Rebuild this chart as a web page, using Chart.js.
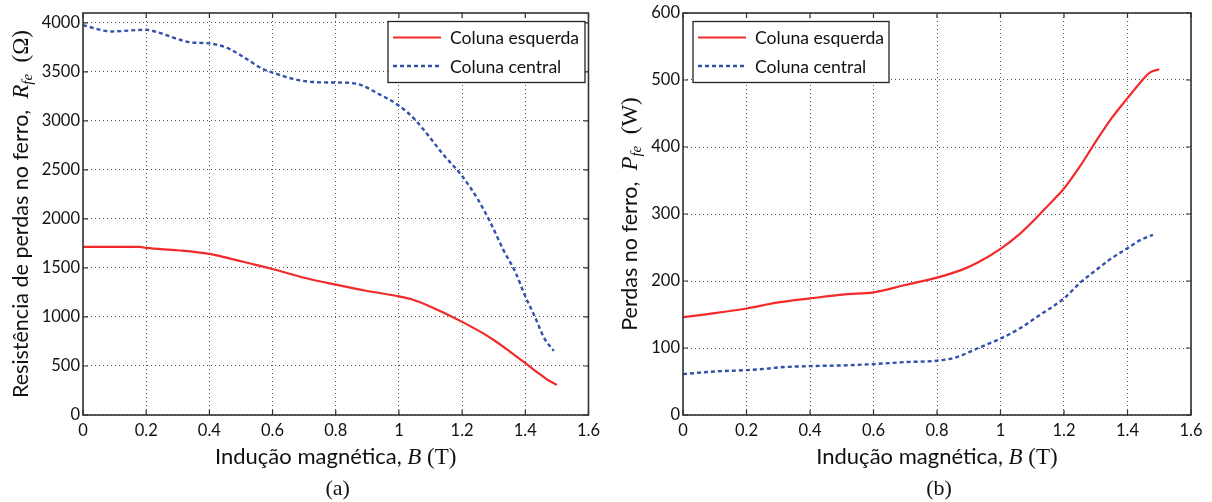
<!DOCTYPE html>
<html><head><meta charset="utf-8">
<script src="https://cdn.jsdelivr.net/npm/chart.js@4/dist/chart.umd.min.js"></script>
<style>
html,body{margin:0;padding:0;background:#fff;}
#wrap{position:relative;width:1212px;height:502px;overflow:hidden;}
.box{position:absolute;top:0;width:606px;height:502px;}
</style></head><body>
<div id="wrap">
<div class="box" style="left:0"><canvas id="c1"></canvas></div>
<div class="box" style="left:606px"><canvas id="c2"></canvas></div>
</div>
<script>
// ---- data (a): resistance R_fe (ohm) vs B (T)
const bEsqR = [0, 0.18, 0.2, 0.3, 0.4, 0.46, 0.51, 0.6, 0.7, 0.8, 0.9, 1.0, 1.04, 1.1, 1.14, 1.2, 1.26, 1.3, 1.35, 1.4, 1.44, 1.47, 1.5];
const rEsq  = [1714, 1714, 1704, 1680, 1643, 1600, 1560, 1489, 1400, 1329, 1265, 1210, 1180, 1105, 1045, 950, 845, 765, 650, 530, 430, 360, 307];
const bCenR = [0, 0.09, 0.2, 0.23, 0.3, 0.34, 0.4, 0.46, 0.51, 0.57, 0.6, 0.66, 0.72, 0.8, 0.84, 0.88, 0.93, 1.0, 1.05, 1.09, 1.14, 1.2, 1.25, 1.29, 1.33, 1.37, 1.4, 1.43, 1.46, 1.49];
const rCen  = [3975, 3912, 3929, 3909, 3834, 3800, 3790, 3739, 3647, 3527, 3493, 3432, 3398, 3391, 3388, 3365, 3285, 3155, 3016, 2863, 2658, 2437, 2198, 1960, 1687, 1448, 1210, 1005, 784, 654];
// ---- data (b): losses P_fe (W) vs B (T)
const bEsqP = [0, 0.1, 0.2, 0.3, 0.4, 0.51, 0.6, 0.7, 0.8, 0.88, 0.93, 1.0, 1.06, 1.1, 1.14, 1.2, 1.25, 1.3, 1.35, 1.4, 1.44, 1.47, 1.5];
const pEsq  = [146, 152, 159, 168, 174, 180, 183, 194, 205, 217, 228, 248, 270, 288, 308, 338, 371, 408, 443, 473, 496, 511, 516];
const bCenP = [0, 0.1, 0.2, 0.26, 0.3, 0.4, 0.5, 0.6, 0.7, 0.8, 0.86, 0.93, 1.0, 1.06, 1.12, 1.2, 1.25, 1.3, 1.35, 1.4, 1.44, 1.48];
const pCen  = [61, 65, 67, 69, 71, 73, 74, 76, 79, 81, 86, 100, 114, 129, 148, 174, 197, 216, 234, 249, 261, 269];
// ---- ticks & labels
const xTicks  = [0, 0.2, 0.4, 0.6, 0.8, 1.0, 1.2, 1.4, 1.6];
const yTicksR = [0, 500, 1000, 1500, 2000, 2500, 3000, 3500, 4000];
const yTicksP = [0, 100, 200, 300, 400, 500, 600];
const seriesLabels = ['Coluna esquerda', 'Coluna central'];

const RED = '#f22a2a', BLUE = '#3350aa';
const SANS = 'Lato, "Open Sans", sans-serif';
const SERIF = '"Liberation Serif", "DejaVu Serif", serif';
const INK = '#111';

function pts(xs, ys){ return xs.map((x,i)=>({x:x, y:ys[i]})); }

function drawRuns(ctx, runs, cx, cy){
  let total = 0;
  runs.forEach(r=>{ ctx.font = r.f; r.w = ctx.measureText(r.t).width; total += r.w; });
  let x = cx - total/2;
  ctx.textAlign = 'left'; ctx.textBaseline = 'alphabetic';
  runs.forEach(r=>{ ctx.font = r.f; ctx.fillText(r.t, x, cy + (r.dy||0)); x += r.w; });
}

const decor = {
  id: 'decor',
  afterDraw(chart, args, o){
    const ctx = chart.ctx, a = chart.chartArea;
    const xs = chart.scales.x, ys = chart.scales.y;
    ctx.save();
    // frame + inward ticks
    ctx.strokeStyle = '#333'; ctx.lineWidth = 1.6; ctx.setLineDash([]);
    ctx.strokeRect(a.left, a.top, a.right - a.left, a.bottom - a.top);
    ctx.lineWidth = 1.2;
    ctx.beginPath();
    xTicks.forEach(v=>{ const p = xs.getPixelForValue(v);
      ctx.moveTo(p, a.bottom); ctx.lineTo(p, a.bottom - 5);
      ctx.moveTo(p, a.top); ctx.lineTo(p, a.top + 5); });
    o.yTicks.forEach(v=>{ const p = ys.getPixelForValue(v);
      ctx.moveTo(a.left, p); ctx.lineTo(a.left + 5, p);
      ctx.moveTo(a.right, p); ctx.lineTo(a.right - 5, p); });
    ctx.stroke();
    // legend
    const L = o.legend;
    ctx.fillStyle = '#fff'; ctx.fillRect(L.x, L.y, L.w, L.h);
    ctx.strokeStyle = '#222'; ctx.lineWidth = 1.3; ctx.strokeRect(L.x, L.y, L.w, L.h);
    chart.data.datasets.forEach((ds, i)=>{
      const yy = L.y + 16 + i*28.5;
      ctx.strokeStyle = ds.borderColor; ctx.lineWidth = ds.borderWidth;
      ctx.setLineDash(ds.borderDash || []);
      ctx.beginPath(); ctx.moveTo(L.x + 5, yy); ctx.lineTo(L.x + 53, yy); ctx.stroke();
      ctx.setLineDash([]);
      ctx.fillStyle = INK; ctx.font = '17.6px ' + SANS;
      ctx.textAlign = 'left'; ctx.textBaseline = 'middle';
      ctx.fillText(ds.label, L.x + 62, yy + 1);
    });
    // axis titles
    ctx.fillStyle = INK;
    const cx = (a.left + a.right)/2, cy = (a.top + a.bottom)/2;
    drawRuns(ctx, [
      {t:'Indução magnética, ', f:'22px ' + SANS},
      {t:'B', f:'italic 23px ' + SERIF},
      {t:' (T)', f:'23px ' + SERIF}], cx, 464);
    drawRuns(ctx, [{t:o.tag, f:'22px ' + SERIF}], cx + 2, 495);
    ctx.translate(o.yTitleX, cy);
    ctx.rotate(-Math.PI/2);
    drawRuns(ctx, [
      {t:o.yTitle + ',  ', f:'21.5px ' + SANS},
      {t:o.sym, f:'italic 23px ' + SERIF},
      {t:'fe', f:'italic 15px ' + SERIF, dy:4},
      {t:'  ' + o.unit, f:'23px ' + SERIF}], 0, 0);
    ctx.restore();
  }
};

function makeChart(id, sets, yMax, yTicks, padRight, yWidth, extra){
  return new Chart(document.getElementById(id), {
    type: 'line',
    data: { datasets: [
      { label: seriesLabels[0], data: pts(sets[0], sets[1]), borderColor: RED, borderWidth: 2.2,
        pointRadius: 0, cubicInterpolationMode: 'monotone', fill: false },
      { label: seriesLabels[1], data: pts(sets[2], sets[3]), borderColor: BLUE, borderWidth: 2.4,
        borderDash: [4, 3], pointRadius: 0, cubicInterpolationMode: 'monotone', fill: false }
    ]},
    options: {
      responsive: true, maintainAspectRatio: false, animation: false,
      layout: { padding: { top: 13, right: padRight, left: 0, bottom: 0 } },
      plugins: { legend: { display: false }, tooltip: { enabled: false }, decor: extra },
      scales: {
        x: { type: 'linear', min: 0, max: 1.6,
          afterBuildTicks: s => { s.ticks = xTicks.map(v=>({value:v})); },
          afterFit: s => { s.height = 87; },
          grid: { color: '#555', lineWidth: 1, drawTicks: false },
          border: { display: false, dash: [1, 3] },
          ticks: { padding: 6, color: INK, font: { family: SANS, size: 16.5 },
            callback: v => String(+v.toFixed(1)) } },
        y: { min: 0, max: yMax,
          afterBuildTicks: s => { s.ticks = yTicks.map(v=>({value:v})); },
          afterFit: s => { s.width = yWidth; },
          grid: { color: '#555', lineWidth: 1, drawTicks: false },
          border: { display: false, dash: [1, 3] },
          ticks: { padding: 3, color: INK, font: { family: SANS, size: 16.5 },
            callback: v => String(v) } }
      }
    },
    plugins: [decor]
  });
}

makeChart('c1', [bEsqR, rEsq, bCenR, rCen], 4100, yTicksR, 14, 83,
  { yTicks: yTicksR, legend: {x:388, y:21.5, w:197, h:61}, tag:'(a)', yTitleX: 28,
    yTitle:'Resistência de perdas no ferro', sym:'R', unit:'(Ω)' });
makeChart('c2', [bEsqP, pEsq, bCenP, pCen], 600, yTicksP, 21, 77,
  { yTicks: yTicksP, legend: {x:87, y:21.5, w:196, h:61}, tag:'(b)', yTitleX: 31,
    yTitle:'Perdas no ferro', sym:'P', unit:'(W)' });
</script>
</body></html>
